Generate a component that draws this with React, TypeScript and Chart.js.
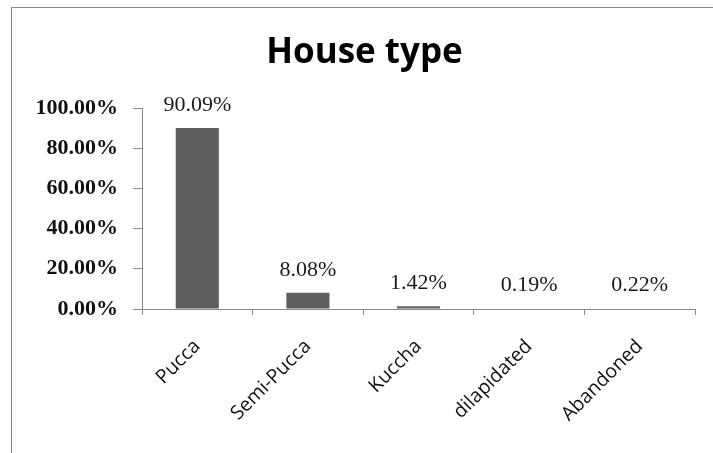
import React, { useEffect, useRef } from "react";
import { Chart, registerables } from "chart.js";

Chart.register(...registerables);

// House type shares (percent of households)
const categories = ["Pucca", "Semi-Pucca", "Kuccha", "dilapidated", "Abandoned"];
const shares = [90.09, 8.08, 1.42, 0.19, 0.22];
const yTickValues = [0, 20, 40, 60, 80, 100];
const chartTitle = "House type";

const axisGray = "#8a8a8a";
const barGray = "#5f5f5f";

// Writes each bar's value above it
const valueLabels = {
  id: "valueLabels",
  afterDatasetsDraw(chart: any) {
    const { ctx } = chart;
    const meta = chart.getDatasetMeta(0);
    ctx.save();
    ctx.font = "22px 'Liberation Serif'";
    ctx.fillStyle = "#1a1a1a";
    ctx.textAlign = "center";
    ctx.textBaseline = "middle";
    meta.data.forEach((bar: any, i: number) => {
      ctx.fillText(shares[i].toFixed(2) + "%", bar.x, bar.y - 23);
    });
    ctx.restore();
  },
};

export default function App() {
  const canvasRef = useRef<HTMLCanvasElement | null>(null);

  useEffect(() => {
    const canvas = canvasRef.current;
    if (!canvas) return;
    const chart = new Chart(canvas, {
      type: "bar",
      data: {
        labels: categories,
        datasets: [
          {
            data: shares,
            backgroundColor: barGray,
            borderWidth: 0,
            barPercentage: 0.39,
            categoryPercentage: 1,
          },
        ],
      },
      options: {
        animation: false,
        responsive: false,
        devicePixelRatio: 1,
        layout: { padding: { left: 34, right: 18, top: 0, bottom: 0 } },
        plugins: {
          legend: { display: false },
          tooltip: { enabled: false },
          title: {
            display: true,
            text: chartTitle,
            color: "#000",
            font: { family: "'Open Sans'", size: 35, weight: "bold", lineHeight: 1.2 },
            padding: { top: 32, bottom: 34 },
          },
        },
        scales: {
          x: {
            grid: {
              offset: true,
              drawOnChartArea: false,
              drawTicks: true,
              tickLength: 6,
              color: axisGray,
            },
            border: { display: true, color: axisGray },
            ticks: {
              color: "#111",
              font: { family: "'Open Sans'", size: 19.5 },
              minRotation: 45,
              maxRotation: 45,
              padding: 20,
            },
            afterFit(scale: any) {
              scale.height = 144;
            },
          },
          y: {
            min: 0,
            max: 100,
            afterBuildTicks(scale: any) {
              scale.ticks = yTickValues.map((v) => ({ value: v }));
            },
            grid: {
              drawOnChartArea: false,
              drawTicks: true,
              tickLength: 9,
              color: axisGray,
            },
            border: { display: true, color: axisGray },
            ticks: {
              color: "#111",
              font: { family: "'Liberation Serif'", size: 22, weight: "bold" },
              padding: 15,
              callback: (v: any) => Number(v).toFixed(2) + "%",
            },
            afterFit(scale: any) {
              scale.width = 108;
            },
          },
        },
      },
      plugins: [valueLabels],
    });
    return () => chart.destroy();
  }, []);

  return (
    <div
      style={{
        position: "fixed",
        left: 0,
        top: 0,
        width: 713,
        height: 453,
        background: "#fff",
      }}
    >
      <div
        style={{
          position: "absolute",
          left: 11,
          top: 7,
          right: 0,
          bottom: 0,
          borderLeft: `1px solid ${axisGray}`,
          borderTop: `1px solid ${axisGray}`,
        }}
      />
      <canvas
        ref={canvasRef}
        width={713}
        height={453}
        style={{ position: "absolute", left: 0, top: 0 }}
      />
    </div>
  );
}
